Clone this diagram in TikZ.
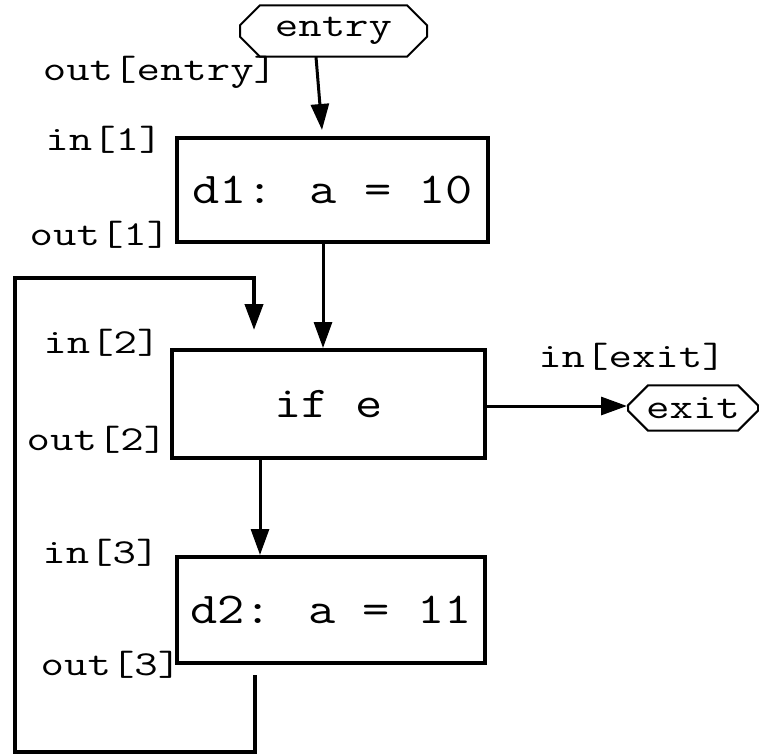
\documentclass[tikz,border=0pt]{standalone}
\usepackage{fontspec}
\newfontfamily\cfont[FakeStretch=1.3]{Latin Modern Mono}
\newfontfamily\bfnt[FakeStretch=1.2]{Latin Modern Mono}
\usetikzlibrary{shapes.misc}
\usetikzlibrary{arrows.meta}

\begin{document}
\begin{tikzpicture}[x=1pt,y=-1pt,
	blk/.style={draw,line width=4pt,inner sep=0pt,font=\fontsize{44}{44}\bfnt},
	term/.style={draw,line width=2pt,chamfered rectangle,chamfered rectangle xsep=8pt,
		chamfered rectangle ysep=12pt,inner sep=0pt,font=\fontsize{35}{35}\cfont},
	lbl/.style={font=\fontsize{35}{35}\cfont,inner sep=0pt},
	flow/.style={line width=3pt,-{Triangle[width=18pt,length=26pt]}}]
\useasboundingbox (0,0) rectangle (759,755);

% the blocks
\node[term,minimum width=187pt,minimum height=34pt] (entry) at (333.5,31) {entry};
\node[blk,minimum width=311pt,minimum height=104pt] (d1) at (332.5,190) {d1: a = 10};
\node[blk,minimum width=313pt,minimum height=108pt] (ife) at (328.5,404) {if e};
\node[blk,minimum width=308pt,minimum height=106pt] (d2) at (331,610) {d2: a = 11};
\node[term,minimum width=130pt,minimum height=37pt] (exit) at (693,408) {exit};

% in / out sets
\node[lbl] at (160,72) {out[entry]};
\node[lbl] at (104,140) {in[1]};
\node[lbl] at (100,235) {out[1]};
\node[lbl] at (102,343) {in[2]};
\node[lbl] at (97,440) {out[2]};
\node[lbl] at (101,553) {in[3]};
\node[lbl] at (111,665) {out[3]};
\node[lbl] at (632,357) {in[exit]};

% edges
\coordinate (e0) at (316,57);
\coordinate (e1) at (322,130);
\draw[flow] (e0) -- (e1);
\draw[flow] (d1.south -| 323,0) -- (ife.north -| 323,0);
\draw[flow] (ife.east |- 0,406) -- (exit.west |- 0,406);
\draw[flow] (ife.south -| 260,0) -- (d2.north -| 260,0);

% back edge
\coordinate (b0) at (255,675);
\coordinate (b1) at (254,330);
\draw[line width=4pt,-{Triangle[width=18pt,length=26pt]}] (b0) -- (255,752) -- (15,752) -- (15,278) -- (254,278) -- (b1);
\end{tikzpicture}
\end{document}
